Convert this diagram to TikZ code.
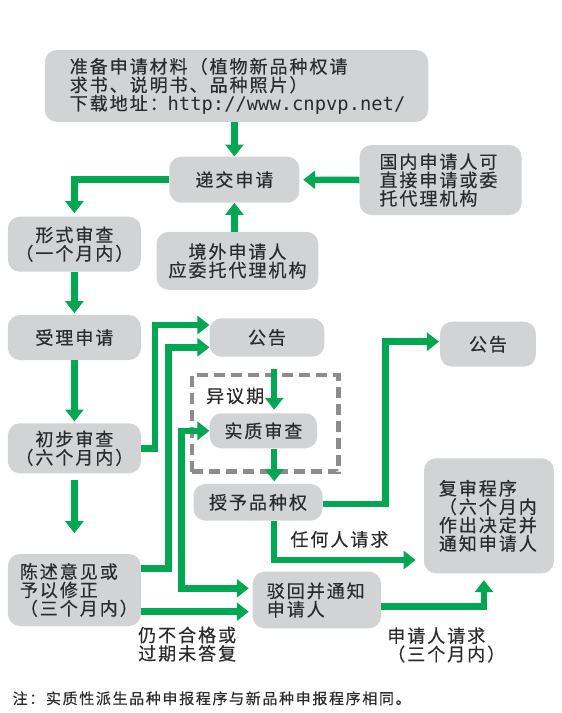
\documentclass[tikz,border=0pt]{standalone}
\usepackage{fontspec}
\setmainfont{Noto Sans CJK SC}[LetterSpace=11, FakeBold=0.4]
\setmonofont{DejaVu Sans Mono}
\usepackage{tikz}
\usetikzlibrary{arrows.meta}
\definecolor{flowgreen}{HTML}{00A651}
\definecolor{boxgray}{HTML}{D1D3D4}
\definecolor{dashgray}{HTML}{8A8C8E}
\definecolor{txtgray}{HTML}{2B2B2B}
\tikzset{
    stagebox/.style={fill=boxgray, rounded corners=12pt, inner sep=0pt, align=center, text=txtgray},
    leftbox/.style={stagebox, align=left},
    dashframe/.style={draw=dashgray, line width=4.5pt, dash pattern=on 11pt off 6pt, inner sep=0pt},
    flow/.style={draw=flowgreen, line width=6.5pt, ->},
    flowlabel/.style={anchor=west, align=left, text=txtgray, inner sep=0pt},
}

\begin{document}
\begin{tikzpicture}[x=1pt, y=-1pt, >={Triangle[width=18pt,length=12pt]}, every node/.style={font=\fontsize{18pt}{18.4pt}\selectfont}]
\useasboundingbox (0,0) rectangle (562,713);
% frame
\node[dashframe, minimum width=146.9pt, minimum height=96.7pt] (objection) at (265.25,423.35) {};
\node[flowlabel] (objlabel) at (206,396) {异议期};
% left column
\node[leftbox, minimum width=383.5pt, minimum height=71.7pt, text width=333.5pt] (prep) at (236.5,85.9) {准备申请材料（植物新品种权请\\求书、说明书、品种照片）\\下载地址：{\fontsize{18.8pt}{18.4pt}\ttfamily http://www.cnpvp.net/}};
\node[stagebox, minimum width=130pt, minimum height=46pt] (submit) at (234.4,179.7) {递交申请};
\node[leftbox, minimum width=162pt, minimum height=70pt, text width=122pt] (domestic) at (440.5,180) {国内申请人可\\直接申请或委\\托代理机构};
\node[stagebox, minimum width=133pt, minimum height=55pt] (formal) at (74.4,244.2) {形式审查\\（一个月内）};
\node[stagebox, minimum width=161.7pt, minimum height=58pt] (abroad) at (237.5,260.8) {境外申请人\\应委托代理机构};
\node[stagebox, minimum width=133pt, minimum height=45pt] (accept) at (74.4,337.5) {受理申请};
\node[stagebox, minimum width=133pt, minimum height=50pt] (prelim) at (74.4,448.3) {初步审查\\（六个月内）};
\node[leftbox, minimum width=133pt, minimum height=72pt, text width=109pt] (state) at (74.4,590) {陈述意见或\\予以修正\\（三个月内）};
% middle and right
\node[stagebox, minimum width=114.7pt, minimum height=38.4pt] (notice) at (267,337.5) {公告};
\node[stagebox, minimum width=107.5pt, minimum height=35pt] (exam) at (263.4,430.8) {实质审查};
\node[stagebox, minimum width=129pt, minimum height=36.7pt] (grant) at (258,502.3) {授予品种权};
\node[stagebox, minimum width=95.7pt, minimum height=45pt] (noticeb) at (488,344.2) {公告};
\node[leftbox, minimum width=129.8pt, minimum height=115pt, text width=100pt] (review) at (488.9,515.8) {复审程序\\（六个月内\\作出决定并\\通知申请人};
\node[leftbox, minimum width=128.3pt, minimum height=56.6pt, text width=100pt] (reject) at (316.8,600) {驳回并通知\\申请人};
% arrows
\draw[flow] (submit.north |- prep.south) -- (submit.north);
\draw[flow, shorten >=3.6pt] (domestic.west) -- (submit.east);
\draw[flow, shorten >=3.4pt] (submit.west) -| (formal.north);
\draw[flow] (submit.south |- abroad.north) -- (submit.south);
\draw[flow, shorten >=1.7pt] (formal.south) -- (accept.north);
\draw[flow, shorten >=1.6pt] (accept.south) -- (prelim.north);
\draw[flow, shorten <=6.7pt, shorten >=20.7pt] (prelim.south) -- (state.north);
\draw[flow] (prelim.east) -- ++(14,0) |- ([yshift=12.5pt]notice.west);
\draw[flow] ([yshift=21.7pt]state.east) -- ++(27.6,0) |- ([yshift=-9.8pt]notice.west);
\draw[flow, <->, shorten >=3.7pt] (exam.west) -- ++(-28,0) |- ([yshift=11.7pt]reject.west);
\draw[flow, shorten <=11.6pt, shorten >=3.3pt] ([xshift=7.2pt]notice.south) -- ([xshift=10.8pt]exam.north);
\draw[flow, shorten >=2.3pt] ([xshift=10.8pt]exam.south) -- ([xshift=16.2pt]grant.north);
\draw[flow, shorten >=1pt] ([yshift=-1.7pt]grant.east) -- ++(62.7,0) |- ([yshift=2.5pt]noticeb.west);
\draw[flow, shorten >=8.2pt] ([xshift=16.2pt]grant.south) |- ([yshift=-44.2pt]review.west);
\draw[flow, shorten >=3.7pt] ([yshift=-21.7pt]state.east) -- ([yshift=-11.7pt]reject.west);
\draw[flow, shorten >=6.7pt] ([yshift=-6.7pt]reject.east) -| ([xshift=-5pt]review.south);
% labels
\node[flowlabel] (anyone) at (290.3,539.3) {任何人请求};
\node[flowlabel] (failed) at (138,644.2) {仍不合格或\\过期未答复};
\node[flowlabel] (appeal) at (387.1,645) {申请人请求\\（三个月内）};
\node[flowlabel, font=\fontsize{15pt}{16pt}\selectfont] (footnote) at (12.5,698.3) {注：实质性派生品种申报程序与新品种申报程序相同。};
\end{tikzpicture}
\end{document}
